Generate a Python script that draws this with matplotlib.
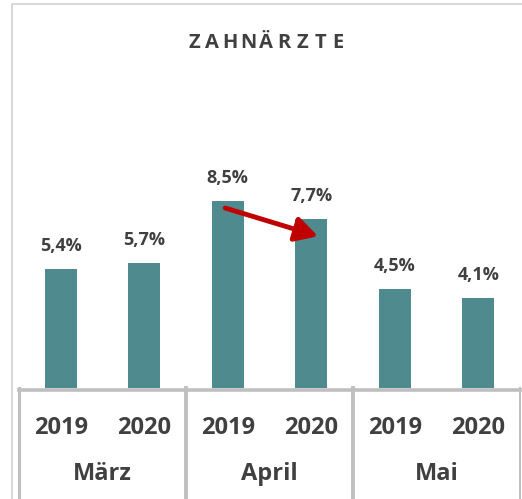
import matplotlib
matplotlib.use("Agg")
import matplotlib.pyplot as plt
from matplotlib.patches import Rectangle, FancyArrowPatch
from matplotlib.lines import Line2D

months = ["März", "April", "Mai"]
years = ["2019", "2020"]
values = [5.4, 5.7, 8.5, 7.7, 4.5, 4.1]
value_labels = ["5,4%", "5,7%", "8,5%", "7,7%", "4,5%", "4,1%"]
title = "ZAHNÄRZTE"

W, H = 522, 499
fig = plt.figure(figsize=(W / 100, H / 100), dpi=100)
plt.rcParams['font.family'] = ['Open Sans', 'DejaVu Sans']

# outer frame
fig.patches.append(Rectangle((12 / W, -0.1), 1.2, 1 - 4 / H + 0.1, transform=fig.transFigure,
                             fill=False, edgecolor="#D9D9D9", linewidth=1.5))

base_y = 388
top_y = 100
ax = fig.add_axes([19 / W, (H - base_y) / H, (520 - 19) / W, (base_y - top_y) / H])
px_per_unit = 22.0
ax.set_ylim(0, (base_y - top_y) / px_per_unit)
ax.set_xlim(-0.5, 5.5)
ax.axis("off")

bar_color = "#4F8A8E"
text_color = "#404040"
grid_color = "#BFBFBF"
xs = list(range(len(values)))
ax.bar(xs, values, width=0.38, color=bar_color)

for x, v, lab in zip(xs, values, value_labels):
    ax.annotate(lab, (x, v), xytext=(0, 16.5), textcoords="offset points",
                ha="center", va="center", fontsize=13, fontweight="bold", color=text_color)

# baseline
axh = base_y - top_y
ax.add_line(Line2D([0, 1], [-1.5 / axh, -1.5 / axh], transform=ax.transAxes, color=grid_color,
                   lw=2.6, clip_on=False))
# separators
trans = ax.get_xaxis_transform()
for b, lw in [(-0.5, 2.2), (1.5, 2.8), (3.5, 2.8), (5.5, 1.5)]:
    ax.add_line(Line2D([b, b], [0, -115 / axh], transform=trans, color=grid_color, lw=lw,
                       clip_on=False))

# year labels and month labels
for i, x in enumerate(xs):
    ax.text(x, -40 / axh, years[i % 2], transform=trans, ha="center", va="center",
            fontsize=17, fontweight="bold", color=text_color)
for j, m in enumerate(months):
    ax.text(2 * j + 0.5, -86 / axh, m, transform=trans, ha="center", va="center",
            fontsize=17, fontweight="bold", color=text_color)

# red arrow between April bars
arrow = FancyArrowPatch((values.index(8.5) - 0.03, 8.18), (values.index(7.7) + 0.08, 6.9),
                        arrowstyle="-|>,head_length=9,head_width=5", color="#C00000", lw=3.5,
                        mutation_scale=1.5, shrinkA=0, shrinkB=0)
ax.add_patch(arrow)

# letter-spaced title
for i, ch in enumerate(title):
    fig.text((194 + 18 * i) / W, 1 - 43 / H, ch, ha="center", va="center",
             fontsize=14.5, fontweight="bold", color=text_color)

fig.savefig("out.png", dpi=100)
